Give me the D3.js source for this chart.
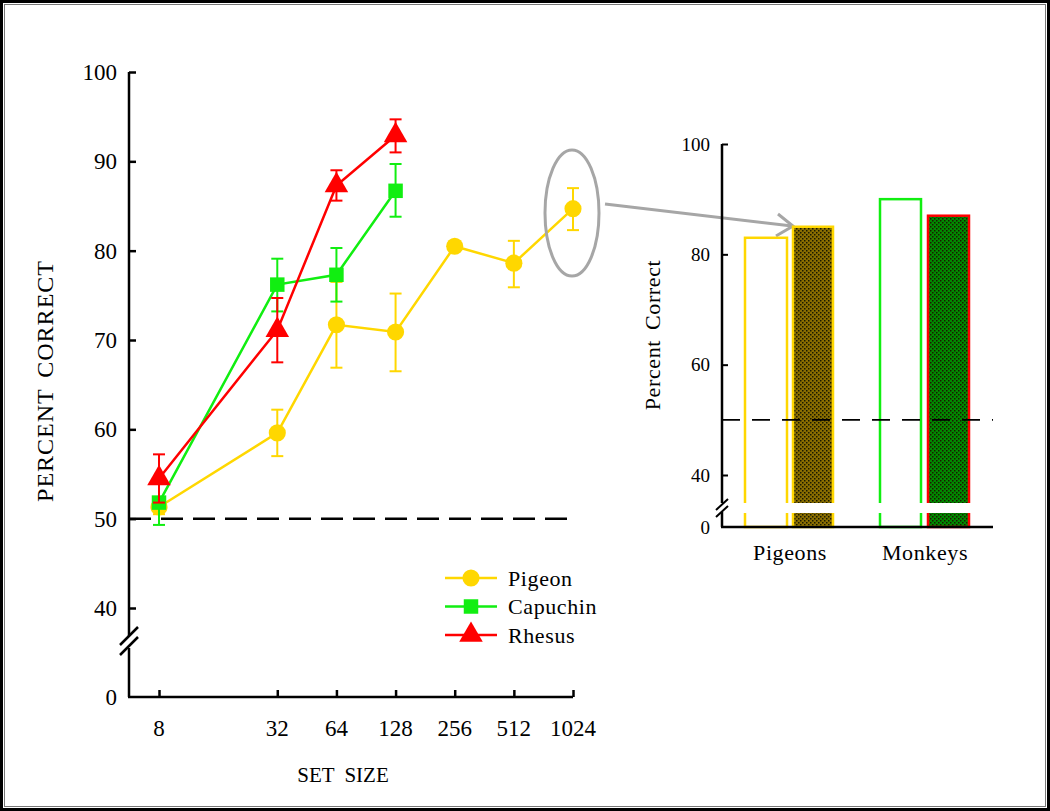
<!DOCTYPE html>
<html><head><meta charset="utf-8">
<script src="https://cdn.jsdelivr.net/npm/d3@7"></script>
<style>body{margin:0;background:#fff}svg{display:block}text{font-family:"Liberation Serif","Times New Roman",serif;fill:#000}</style>
</head><body>
<script>
// ---------- data ----------
const setSizes = [8, 32, 64, 128, 256, 512, 1024];
const yTicksLeft = [40, 50, 60, 70, 80, 90, 100];
const pigeonX = [8, 32, 64, 128, 256, 512, 1024];
const pigeonY = [51.3, 59.6, 71.7, 70.9, 80.5, 78.6, 84.7];
const pigeonLo = [50.5, 57.0, 66.9, 66.5, 80.0, 75.9, 82.3];
const pigeonHi = [52.0, 62.2, 76.5, 75.2, 81.0, 81.1, 87.0];
const capX = [8, 32, 64, 128];
const capY = [51.8, 76.2, 77.3, 86.7];
const capLo = [49.3, 73.2, 74.3, 83.8];
const capHi = [54.0, 79.1, 80.3, 89.7];
const rheX = [8, 32, 64, 128];
const rheY = [54.5, 71.1, 87.3, 92.9];
const rheLo = [51.8, 67.5, 85.6, 91.0];
const rheHi = [57.2, 74.7, 89.0, 94.7];
const legendNames = ["Pigeon", "Capuchin", "Rhesus"];
const barGroups = ["Pigeons", "Monkeys"];
const barValues = [83, 85, 90, 87];
const yTicksRight = [40, 60, 80, 100];

const W = 1050, H = 811;
const svg = d3.select("body").append("svg").attr("width", W).attr("height", H);

// frame
svg.append("rect").attr("x",1.5).attr("y",1.5).attr("width",W-3).attr("height",H-3)
  .attr("fill","none").attr("stroke","#000").attr("stroke-width",3);
svg.append("rect").attr("x",4.5).attr("y",4.5).attr("width",W-9).attr("height",H-9)
  .attr("fill","none").attr("stroke","#777").attr("stroke-width",1);

const YEL = "#FFD700", GRN = "#11EE11", RED = "#FF0000";

// ---------- left chart ----------
const x = d3.scaleLog().base(2).domain([8,1024]).range([159,573]);
const y = d3.scaleLinear().domain([40,100]).range([608,72]);
const yZero = 697, axX = 129;
const L = svg.append("g");

// y axis line with break
L.append("path").attr("d",`M${axX},${y(100)}V${636}M${axX},${648}V${yZero}`)
  .attr("stroke","#000").attr("stroke-width",2.5).attr("fill","none");
L.append("path").attr("d",`M${axX-9},${645}L${axX+9},${627}M${axX-9},${655}L${axX+9},${637}`)
  .attr("stroke","#000").attr("stroke-width",2.5);
// y ticks
const yAx = d3.axisRight(y).tickValues(yTicksLeft).tickSize(7).tickFormat("");
const gy = L.append("g").attr("transform",`translate(${axX},0)`).call(yAx);
gy.select(".domain").remove();
gy.selectAll("line").attr("stroke-width",2.5);
L.selectAll("text.yl").data(yTicksLeft).join("text").attr("class","yl")
  .attr("x",117).attr("y",d=>y(d)).attr("dy","0.35em").attr("text-anchor","end")
  .attr("font-size",23).text(d=>d);
L.append("text").attr("x",117).attr("y",yZero).attr("dy","0.35em").attr("text-anchor","end")
  .attr("font-size",23).text("0");

// x axis
L.append("line").attr("x1",axX-1).attr("x2",573).attr("y1",yZero).attr("y2",yZero)
  .attr("stroke","#000").attr("stroke-width",2.5);
const xAx = d3.axisTop(x).tickValues(setSizes).tickSize(7).tickFormat("");
const gx = L.append("g").attr("transform",`translate(0,${yZero})`).call(xAx);
gx.select(".domain").remove();
gx.selectAll("line").attr("stroke-width",2.5);
L.selectAll("text.xl").data(setSizes).join("text").attr("class","xl")
  .attr("x",d=>x(d)).attr("y",736).attr("text-anchor","middle").attr("font-size",23).text(d=>d);

L.append("text").attr("transform","translate(53,381) rotate(-90)").attr("text-anchor","middle")
  .attr("font-size",24).attr("letter-spacing",1).attr("word-spacing",4).text("PERCENT  CORRECT");
L.append("text").attr("x",343).attr("y",782).attr("text-anchor","middle")
  .attr("font-size",21).attr("word-spacing",5).text("SET  SIZE");

// chance line
L.append("line").attr("x1",axX).attr("x2",573).attr("y1",y(50)).attr("y2",y(50))
  .attr("stroke","#000").attr("stroke-width",2.5).attr("stroke-dasharray","22,10");

const series = [
  {name:"Pigeon", c:YEL, xs:pigeonX, ys:pigeonY, lo:pigeonLo, hi:pigeonHi, sym:d3.symbolCircle, size:230},
  {name:"Capuchin", c:GRN, xs:capX, ys:capY, lo:capLo, hi:capHi, sym:d3.symbolSquare, size:210},
  {name:"Rhesus", c:RED, xs:rheX, ys:rheY, lo:rheLo, hi:rheHi, sym:d3.symbolTriangle, size:240},
];
const line = d3.line().x(d=>x(d[0])).y(d=>y(d[1]));
series.forEach(s=>{
  const g = L.append("g");
  const pts = s.xs.map((v,i)=>[v,s.ys[i],s.lo[i],s.hi[i]]);
  pts.forEach(p=>{
    g.append("line").attr("x1",x(p[0])).attr("x2",x(p[0])).attr("y1",y(p[2])).attr("y2",y(p[3]))
      .attr("stroke",s.c).attr("stroke-width",2);
    [p[2],p[3]].forEach(v=>g.append("line").attr("x1",x(p[0])-6).attr("x2",x(p[0])+6)
      .attr("y1",y(v)).attr("y2",y(v)).attr("stroke",s.c).attr("stroke-width",2));
  });
  g.append("path").attr("d",line(pts)).attr("fill","none").attr("stroke",s.c).attr("stroke-width",2.5);
  g.selectAll("path.m").data(pts).join("path").attr("class","m")
    .attr("transform",p=>`translate(${x(p[0])},${y(p[1])})`)
    .attr("d",d3.symbol().type(s.sym).size(s.size)).attr("fill",s.c);
});
// legend
const leg = L.append("g");
legendNames.forEach((n,i)=>{
  const s = series[i]; const ly = 578 + i*28.5;
  leg.append("line").attr("x1",445).attr("x2",497).attr("y1",ly).attr("y2",ly).attr("stroke",s.c).attr("stroke-width",2.5);
  leg.append("path").attr("transform",`translate(471,${ly})`).attr("d",d3.symbol().type(s.sym).size(s.size)).attr("fill",s.c);
  leg.append("text").attr("x",508).attr("y",ly).attr("dy","0.35em").attr("font-size",22)
    .attr("letter-spacing",0.6).text(n);
});

// ellipse and arrow
L.append("ellipse").attr("cx",572).attr("cy",213).attr("rx",27).attr("ry",63)
  .attr("fill","none").attr("stroke","#A6A6A6").attr("stroke-width",3);
L.append("line").attr("x1",605).attr("y1",204).attr("x2",792).attr("y2",226)
  .attr("stroke","#A6A6A6").attr("stroke-width",3);
L.append("path").attr("d","M778,214 L793,226 L776,236").attr("fill","none")
  .attr("stroke","#A6A6A6").attr("stroke-width",3);

// ---------- right chart ----------
const R = svg.append("g");
const y2 = d3.scaleLinear().domain([40,100]).range([475,144]);
const y2Zero = 527, ax2 = 722;
const defs = svg.append("defs");
function pat(id, base){
  const p = defs.append("pattern").attr("id",id).attr("width",4).attr("height",4).attr("patternUnits","userSpaceOnUse");
  p.append("rect").attr("width",4).attr("height",4).attr("fill",base);
  p.append("rect").attr("x",0).attr("y",0).attr("width",1.5).attr("height",1.5).attr("fill","#1a1a00");
  p.append("rect").attr("x",2).attr("y",2).attr("width",1.5).attr("height",1.5).attr("fill","#1a1a00");
}
pat("olive","#8A6E00");
pat("dgreen","#008A00");

const barX = [[745,787],[793,833],[880,921],[928,969]];
const barFill = ["#fff","url(#olive)","#fff","url(#dgreen)"];
const barStroke = [YEL, YEL, GRN, RED];
R.selectAll("rect.bar").data(barValues).join("rect").attr("class","bar")
  .attr("x",(d,i)=>barX[i][0]).attr("width",(d,i)=>barX[i][1]-barX[i][0])
  .attr("y",d=>y2(d)).attr("height",d=>y2Zero-y2(d))
  .attr("fill",(d,i)=>barFill[i]).attr("stroke",(d,i)=>barStroke[i]).attr("stroke-width",2.5);
// break gap through bars
R.append("rect").attr("x",735).attr("y",503).attr("width",245).attr("height",10).attr("fill","#fff");

// chance dashed line
R.append("line").attr("x1",ax2).attr("x2",993).attr("y1",y2(50)).attr("y2",y2(50))
  .attr("stroke","#000").attr("stroke-width",1.8).attr("stroke-dasharray","18,12");

// axes
R.append("path").attr("d",`M${ax2},${y2(100)}V${503}M${ax2},${512}V${y2Zero}`)
  .attr("stroke","#000").attr("stroke-width",2.5).attr("fill","none");
R.append("path").attr("d",`M${ax2-6},${510}L${ax2+6},${499}M${ax2-6},${517}L${ax2+6},${506}`)
  .attr("stroke","#000").attr("stroke-width",2);
R.append("line").attr("x1",ax2-1).attr("x2",993).attr("y1",y2Zero).attr("y2",y2Zero)
  .attr("stroke","#000").attr("stroke-width",2.5);
const gy2 = R.append("g").attr("transform",`translate(${ax2},0)`)
  .call(d3.axisRight(y2).tickValues(yTicksRight).tickSize(6).tickFormat(""));
gy2.select(".domain").remove();
gy2.selectAll("line").attr("stroke-width",2);
R.selectAll("text.yl2").data(yTicksRight).join("text").attr("class","yl2")
  .attr("x",710).attr("y",d=>y2(d)).attr("dy","0.35em").attr("text-anchor","end")
  .attr("font-size",19).text(d=>d);
R.append("text").attr("x",710).attr("y",y2Zero).attr("dy","0.35em").attr("text-anchor","end")
  .attr("font-size",19).text("0");
R.append("text").attr("transform","translate(660,335) rotate(-90)").attr("text-anchor","middle")
  .attr("font-size",22).attr("letter-spacing",0.6).attr("word-spacing",4).text("Percent  Correct");
const catX = [790, 925];
R.selectAll("text.cat").data(barGroups).join("text").attr("class","cat")
  .attr("x",(d,i)=>catX[i]).attr("y",560).attr("text-anchor","middle").attr("font-size",22)
  .attr("letter-spacing",0.6).text(d=>d);
</script>
</body></html>
